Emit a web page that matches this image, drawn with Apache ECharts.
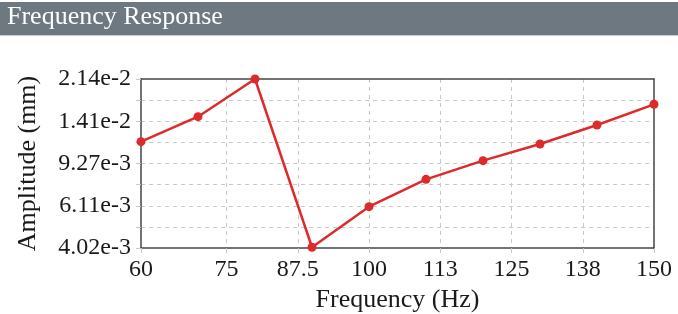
<!DOCTYPE html>
<html>
<head>
<meta charset="utf-8">
<script src="https://cdn.jsdelivr.net/npm/echarts@6/dist/echarts.min.js"></script>
<style>html,body{margin:0;padding:0;background:#fff}#c{width:678px;height:314px}</style>
</head>
<body>
<div id="c"></div>
<script>
// ---- data ----
const chartTitle = 'Frequency Response';
const xName = 'Frequency (Hz)';
const yName = 'Amplitude (mm)';
const frequencies = [60, 70, 80, 90, 100, 110, 120, 130, 140, 150];
const amplitudes = [0.01151, 0.01474, 0.0214, 0.00405, 0.00605, 0.00793, 0.00954, 0.01125, 0.01357, 0.01666];
const xTickValues = [60, 75, 87.5, 100, 112.5, 125, 137.5, 150];
const xTickLabels = ['60', '75', '87.5', '100', '113', '125', '138', '150'];
const yTickLabels = ['4.02e-3', '6.11e-3', '9.27e-3', '1.41e-2', '2.14e-2'];
const yMin = 4.02e-3, yMax = 2.14e-2;
const yGridSteps = 8; // gridlines between min and max (log spaced)

// log transform onto 0..yGridSteps
const logSpan = Math.log(yMax / yMin);
const toT = v => Math.log(v / yMin) / logSpan * yGridSteps;
const seriesData = frequencies.map((f, i) => [f, toT(amplitudes[i])]);

const font = 'Liberation Serif';
const frameLine = () => ({show: true, onZero: false, lineStyle: {color: '#454545', width: 1.5}});
const chart = echarts.init(document.getElementById('c'), null, {renderer: 'canvas'});
chart.setOption({
  animation: false,
  graphic: [
    {type: 'rect', shape: {x: 0, y: 2, width: 678, height: 33}, style: {fill: '#6d7880'}, z: 1},
    {type: 'rect', shape: {x: 0, y: 35, width: 678, height: 1}, style: {fill: '#c5cbcf'}, z: 1},
    {type: 'text', x: 7, y: 4, z: 2, style: {text: chartTitle, fill: '#ffffff', font: '26px "Liberation Serif"'}}
  ],
  grid: {left: 141, right: 24, top: 79, bottom: 66, show: false, containLabel: false, outerBoundsMode: 'none'},
  xAxis: [{
    type: 'value', min: 60, max: 150, position: 'bottom',
    name: xName, nameLocation: 'middle', nameGap: 29,
    nameTextStyle: {fontFamily: font, fontSize: 26, color: '#1a1a1a'},
    axisLine: frameLine(),
    axisTick: {show: true, length: 5, customValues: xTickValues, lineStyle: {color: '#c8c8c8'}},
    axisLabel: {customValues: xTickValues, margin: 10, fontFamily: font, fontSize: 24, color: '#1a1a1a',
      formatter: v => { const i = xTickValues.indexOf(v); return i >= 0 ? xTickLabels[i] : ''; }},
    splitLine: {show: true, showMinLine: false, showMaxLine: false, lineStyle: {color: '#c8c8c8', type: [4, 4], width: 1}}
  }, {
    type: 'value', min: 60, max: 150, position: 'top',
    axisLine: frameLine(), axisTick: {show: false}, axisLabel: {show: false}, splitLine: {show: false}
  }],
  yAxis: [{
    type: 'value', min: 0, max: yGridSteps, interval: 1, position: 'left',
    name: yName, nameLocation: 'middle', nameGap: 100, nameRotate: 90,
    nameTextStyle: {fontFamily: font, fontSize: 26, color: '#1a1a1a'},
    axisLine: frameLine(),
    axisTick: {show: true, length: 5, lineStyle: {color: '#c8c8c8'}},
    axisLabel: {margin: 10, fontFamily: font, fontSize: 24, color: '#1a1a1a',
      formatter: v => { const k = Math.round(v); return k % 2 === 0 ? yTickLabels[k / 2] : ''; }},
    splitLine: {show: true, showMinLine: false, showMaxLine: false, lineStyle: {color: '#c8c8c8', type: [4, 4], width: 1}}
  }, {
    type: 'value', min: 0, max: yGridSteps, interval: 1, position: 'right',
    axisLine: frameLine(), axisTick: {show: false}, axisLabel: {show: false}, splitLine: {show: false}
  }],
  series: [{
    type: 'line', data: seriesData, clip: false, z: 20,
    symbol: 'circle', symbolSize: 9,
    lineStyle: {color: '#dd2a2a', width: 2.5},
    itemStyle: {color: '#dd2a2a'}
  }]
});
</script>
</body>
</html>
